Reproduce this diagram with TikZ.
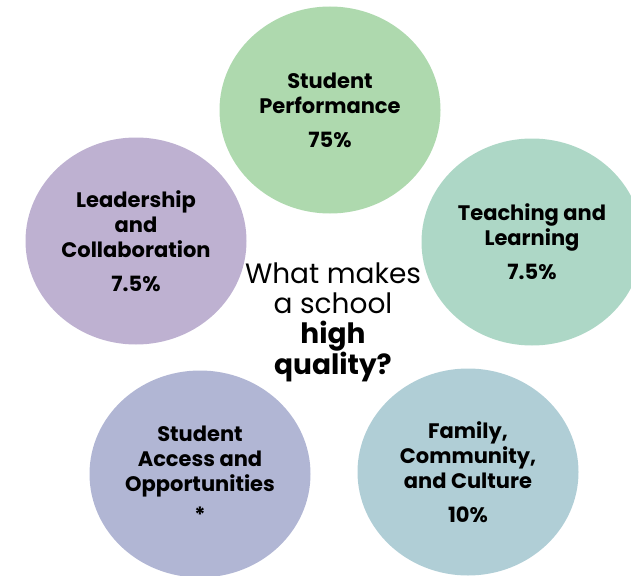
\documentclass[tikz,border=0pt]{standalone}
\usepackage{fontspec}
\setmainfont{Poppins}
\usepackage{tikz}
\usetikzlibrary{shapes.geometric}

\definecolor{perfgreen}{HTML}{AED9AE}
\definecolor{teachteal}{HTML}{ADD7C6}
\definecolor{familyblue}{HTML}{B0CED6}
\definecolor{accessblue}{HTML}{B1B6D4}
\definecolor{leadpurple}{HTML}{BEB1D1}

\begin{document}
\begin{tikzpicture}[
    x=1pt, y=-1pt,
    bubble/.style={ellipse, minimum width=221pt, minimum height=207pt, inner sep=0pt,
        align=center, font=\fontsize{21}{25}\selectfont\bfseries},
    question/.style={align=center, font=\fontsize{28}{30}\selectfont}
]
\useasboundingbox (0,0) rectangle (631,575);

% the five areas round the question
\node[bubble, fill=perfgreen] (perf) at (330,110)
    {Student\\Performance\\[9pt]75\%};
\node[bubble, fill=teachteal] (teach) at (532,242)
    {Teaching and\\Learning\\[9pt]7.5\%};
\node[bubble, fill=familyblue] (family) at (468,472)
    {Family,\\Community,\\and Culture\\[9pt]10\%};
\node[bubble, fill=accessblue] (access) at (200,474)
    {Student\\Access and\\Opportunities\\[6pt]*};
\node[bubble, fill=leadpurple] (lead) at (136,241)
    {Leadership\\and\\Collaboration\\[9pt]7.5\%};

% centre text
\node[question] (what) at (333,322)
    {What makes\\a school\\\textbf{high}\\\textbf{quality?}};

\end{tikzpicture}
\end{document}
